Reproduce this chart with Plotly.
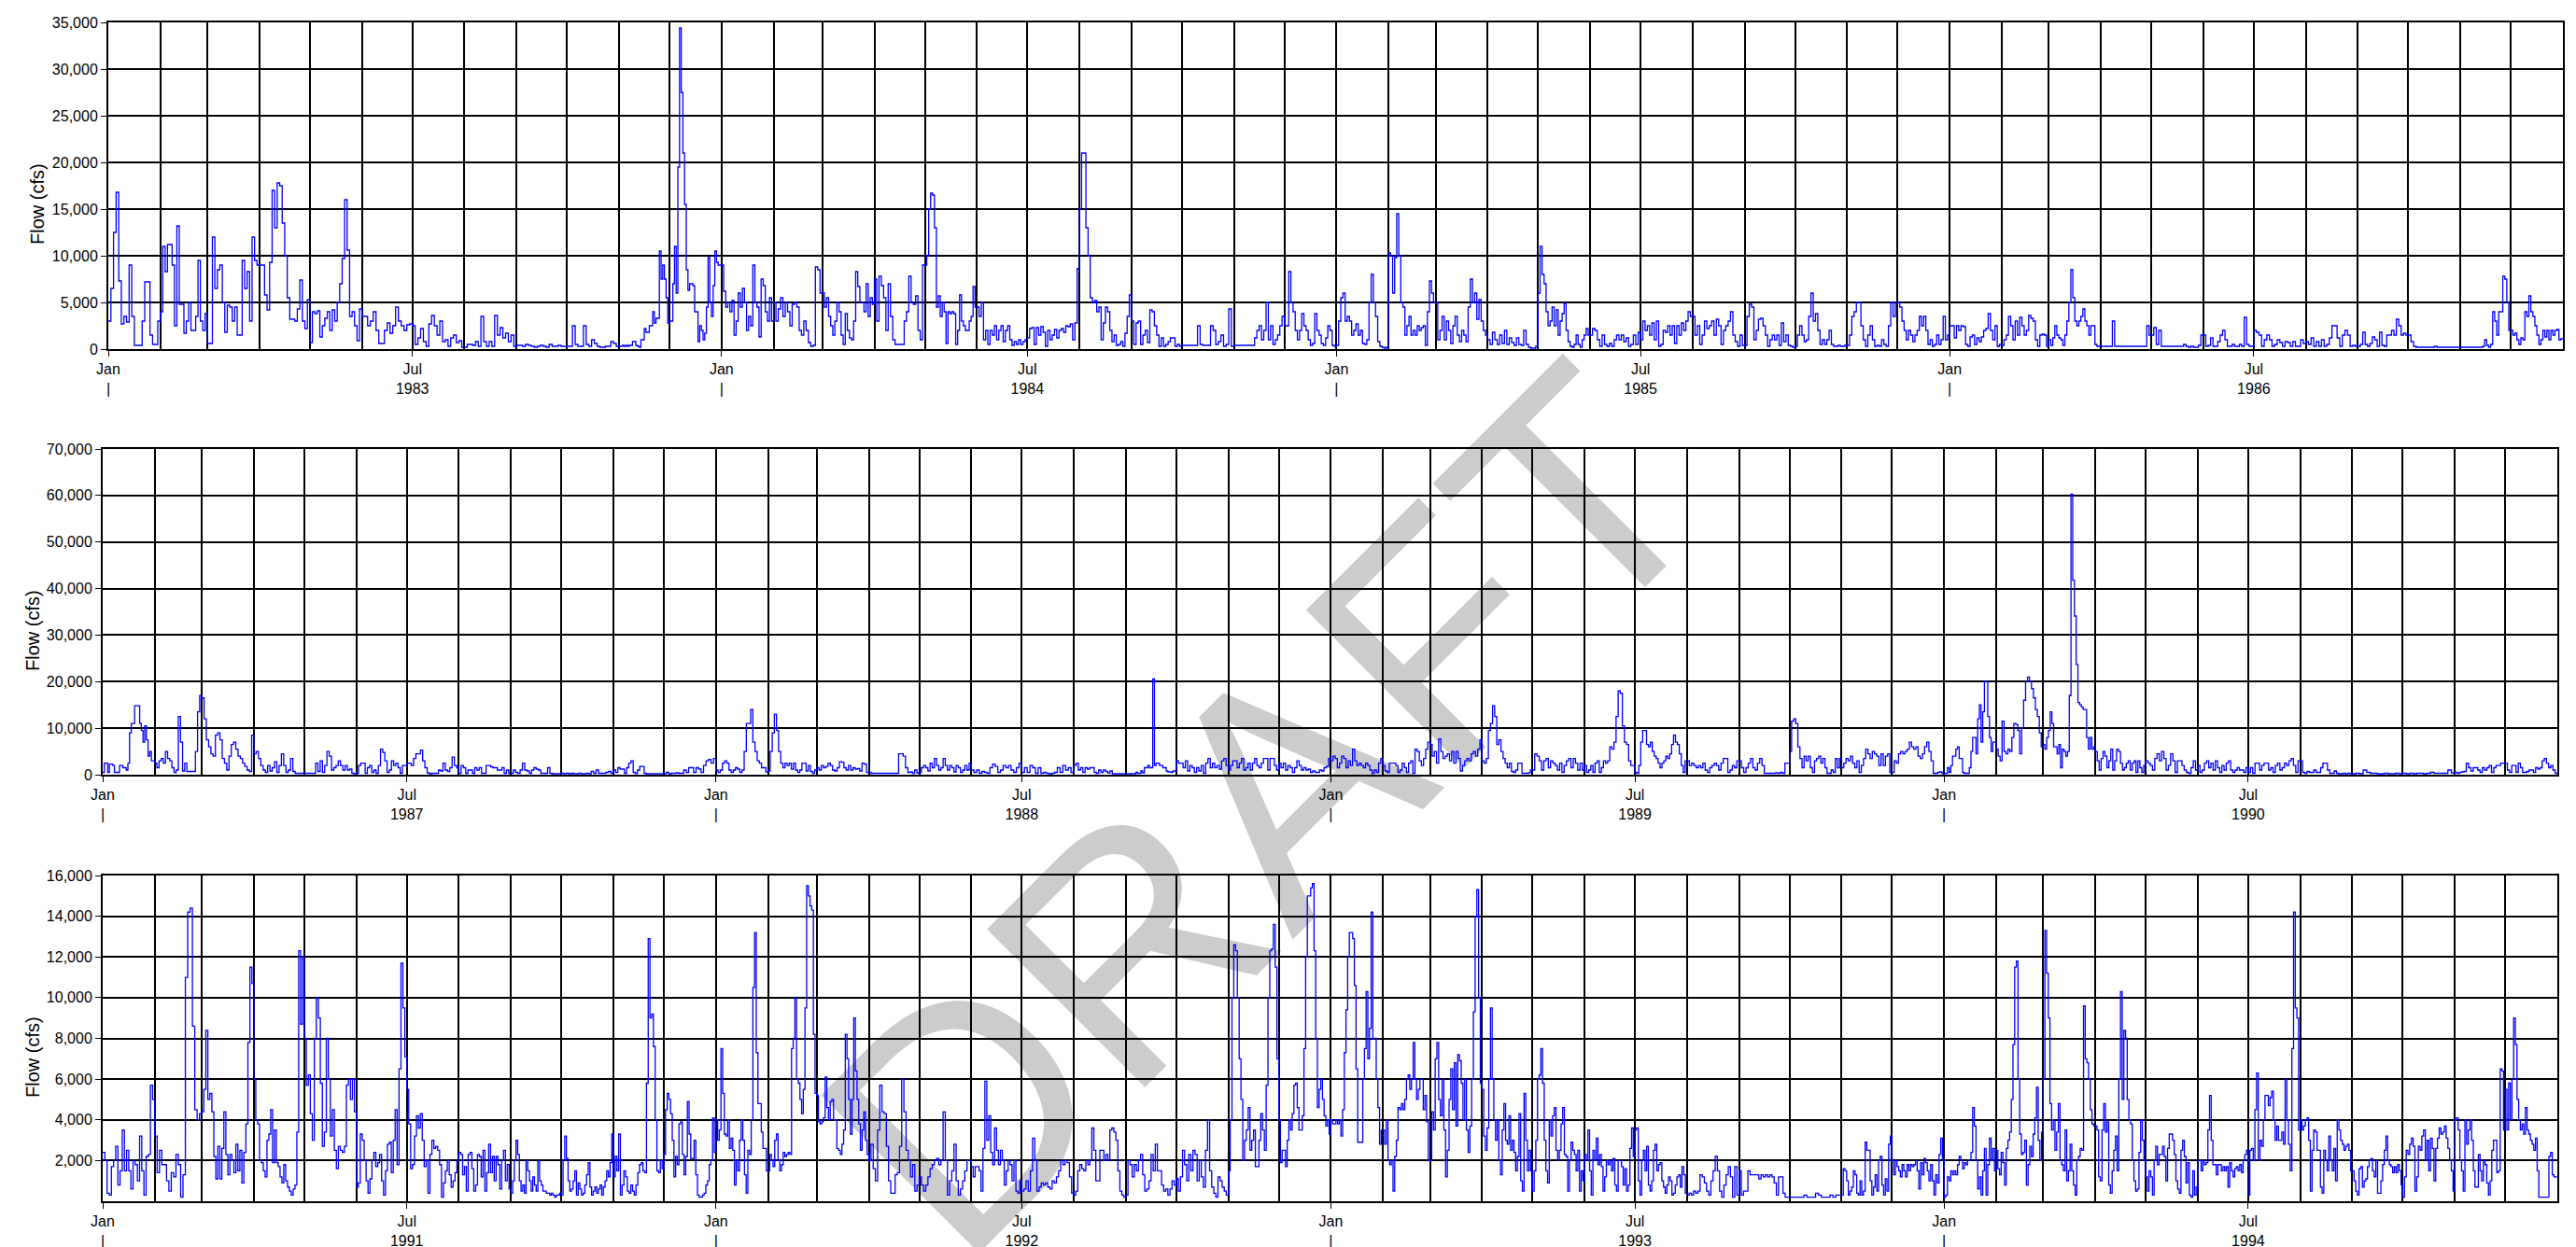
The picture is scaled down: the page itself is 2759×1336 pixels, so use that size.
import calendar
import pandas as pd
import plotly.graph_objects as go

W, H = 2759, 1336

# ---------------- data: daily-ish flow (cfs), one list per month ----------------
flow_1983 = [
    [3000, 6500, 12500, 16800, 7300, 2700, 3500, 2900, 9000, 3500, 400, 400, 400, 3000, 7200, 7200, 1500, 500, 500, 3000],
    [4000, 11000, 8300, 11200, 11200, 9000, 2500, 13200, 4800, 4800, 1700, 3000, 5000, 2000, 2000, 3500, 9500, 3000, 2000, 3800],
    [600, 600, 12000, 6500, 8500, 9000, 5000, 1800, 4700, 4500, 3000, 4500, 1500, 1500, 9500, 6500, 8300, 3000, 12000, 9500, 9000],
    [9000, 9000, 5800, 4200, 9300, 17000, 13000, 17800, 17500, 13500, 10000, 5500, 3200, 3200, 3000, 4300, 7400, 3000, 2200, 5300],
    [700, 4000, 3800, 4100, 1300, 2500, 3300, 4000, 2000, 4200, 3000, 5000, 7000, 9700, 16000, 10600, 3500, 4000, 2500, 900, 4300],
    [3500, 3500, 2500, 3000, 4000, 2000, 600, 600, 2000, 2800, 1700, 2500, 4500, 3000, 2500, 2000, 2600, 2700],
    [2500, 500, 1200, 2200, 800, 300, 2700, 3600, 2500, 1500, 3000, 800, 1000, 300, 1200, 1500, 700, 900, 200],
    [200, 500, 500, 400, 800, 300, 3500, 800, 300, 800, 300, 3600, 1500, 2300, 1200, 1700, 800, 1500, 300],
    [400, 400, 300, 500, 400, 300, 200, 300, 400, 300, 200, 500, 300, 300, 400, 300, 300],
    [300, 300, 2500, 500, 300, 300, 2500, 500, 300, 1000, 600, 300, 200, 200, 300, 300, 800, 600, 300],
    [300, 300, 400, 300, 400, 300, 400, 400, 800, 800, 400, 300, 200, 1000, 1000, 2200, 1800, 1800, 2500, 2500, 4000, 2800, 3300, 3300, 10500, 7500, 9000, 7500, 5500, 2800],
    [3000, 3000, 7000, 11000, 6000, 19500, 34400, 27500, 21000, 15500, 8500, 6300, 7000, 7000, 6800, 4000, 4000, 800, 2500, 2000, 1000, 1700, 4500, 9800, 5000, 3500, 6800, 10500, 9300, 9000, 9000],
]
flow_1984 = [
    [9000, 6200, 4500, 5000, 4000, 5200, 1500, 3000, 6000, 4500, 6500, 5000, 2000, 3500, 2500, 9000, 5000, 4500, 1300, 7500, 6800, 4000, 3000, 5500, 3000],
    [5000, 3000, 4300, 5500, 3500, 5000, 4000, 2500, 4800, 5000, 4500, 2000, 1500, 3000, 2000, 700, 300, 400, 8800, 8500, 6000],
    [6000, 4500, 5500, 3500, 2500, 1500, 3000, 5000, 4000, 1500, 500, 3800, 2000, 1200, 1000, 3000, 8300, 6700, 5000, 5000, 4000, 7000, 3500, 5500, 4800],
    [7500, 3000, 7800, 6800, 5500, 2000, 7000, 3500, 1000, 500, 500, 500, 500, 3000, 4000, 7800, 5000, 4800, 5700, 2000, 1000, 9000],
    [9000, 10000, 15000, 16700, 16500, 13000, 4500, 5700, 3500, 5000, 4000, 600, 4000, 3800, 4000, 3800, 500, 2000, 5800, 3000, 2500, 2000, 2000, 3000, 3500, 6700, 4500],
    [4500, 3500, 5000, 1000, 2000, 500, 2000, 1500, 2500, 1000, 2000, 2500, 800, 2000, 2500, 1000, 400, 800, 500, 1000, 500, 800, 1000],
    [1200, 2200, 2300, 500, 2300, 1500, 2400, 1800, 300, 2000, 1000, 1500, 2100, 1200, 2000, 2200, 1800, 2500, 2400, 2700, 1000, 2800, 8600],
    [15000, 21000, 21000, 13000, 10000, 5500, 5000, 5200, 4000, 4500, 1000, 2800, 4500, 4000, 2000, 800, 1500, 400, 500, 800, 300, 1700, 3500, 5800],
    [3000, 500, 2800, 3000, 500, 1500, 2000, 700, 4200, 4000, 2500, 1500, 300, 1200, 300, 500, 800, 1200, 1200, 300, 500, 300],
    [400, 400, 400, 400, 400, 400, 2500, 500, 400, 400, 400, 2500, 2000, 500, 800, 1500, 300, 500, 4300, 300],
    [400, 400, 400, 400, 400, 400, 400, 400, 400, 1200, 2000, 2500, 1000, 2000, 5000, 1000, 2500, 500, 1000, 1500, 2500, 3500],
    [2500, 2500, 8300, 5000, 4000, 2000, 1000, 2000, 3800, 2500, 2000, 1000, 400, 600, 3800, 2000, 1500, 600, 400, 1200, 2500, 2000, 400, 300],
]
flow_1985 = [
    [400, 3000, 5500, 6000, 3000, 3500, 3000, 1500, 2000, 2700, 1500, 2000, 600, 500, 1000, 5000, 8000, 5000, 3500, 800, 300, 200, 100, 200],
    [10300, 10000, 6000, 9800, 14500, 10000, 5000, 4500, 1500, 2500, 3500, 1500, 2000, 1500, 2500, 2000, 2300, 2500, 400, 4000, 7300, 6000, 5000],
    [5000, 1000, 2000, 3500, 1000, 3000, 2000, 600, 2500, 3500, 1500, 800, 2000, 1500, 800, 4500, 7500, 5000, 6000, 3200, 5300, 3000, 2000, 1500],
    [1000, 500, 1800, 1000, 500, 1500, 600, 2000, 500, 1200, 700, 400, 1200, 500, 400, 2000, 500, 200, 100, 100, 300],
    [6000, 11000, 8000, 7000, 4000, 2500, 3000, 4500, 2500, 4200, 1500, 3000, 3800, 4900, 2000, 800, 300, 200, 500, 1500, 500, 200, 1000, 1500, 2200, 1500],
    [1500, 2200, 2000, 1000, 300, 1500, 500, 300, 600, 300, 1000, 1500, 1000, 1500, 800, 1200, 300, 500, 1500, 500, 1800],
    [1000, 3000, 2000, 2500, 1500, 2800, 1000, 3000, 300, 500, 2000, 1800, 2500, 1500, 2500, 600, 2500, 1500, 2800, 2000, 3000, 4000, 3500],
    [3500, 1500, 2500, 500, 1500, 3000, 2200, 2500, 3000, 1500, 3200, 2500, 500, 2000, 2500, 3000, 4000, 1500, 800, 300, 1500, 400],
    [400, 3500, 4800, 4500, 1000, 2000, 3200, 3300, 2500, 1500, 300, 1000, 1500, 1000, 1500, 400, 2800, 800, 1500, 400, 300, 200],
    [300, 1500, 2500, 1500, 800, 1000, 3500, 6000, 3000, 3800, 2000, 500, 1000, 500, 1000, 2000, 500, 300, 300, 400, 300, 300, 400],
    [400, 1500, 3500, 4000, 5000, 5000, 2500, 1000, 300, 1500, 2500, 1000, 300, 400, 300, 1000, 500, 300, 2500, 5000, 3500, 5000],
    [5000, 4500, 3000, 2000, 1000, 2000, 1500, 800, 1500, 2000, 3500, 2500, 3500, 2000, 500, 1000, 300, 500, 1500, 500, 1000, 3500, 1000, 1500],
]
flow_1986 = [
    [2500, 2500, 1200, 2500, 2000, 2500, 2400, 500, 300, 1300, 1500, 500, 1200, 800, 1300, 2000, 2200, 3800, 2000, 1000, 2500, 300, 500],
    [400, 1000, 1500, 3500, 2500, 1000, 3000, 1500, 3400, 2500, 1500, 2000, 3600, 3300, 3000, 1000, 300, 1500, 1600, 1500, 300],
    [1000, 400, 1200, 2500, 1500, 1200, 1000, 400, 1500, 3000, 5000, 8500, 5500, 3000, 2500, 3000, 3500, 4300, 3000, 2500, 1500, 2500, 2500, 500, 300, 300],
    [300, 300, 300, 300, 300, 3000, 300, 300, 300, 300, 300, 300, 300, 300, 300, 300, 300, 300, 300, 300, 2500, 1500],
    [1500, 2300, 500, 2000, 300, 300, 300, 300, 300, 300, 300, 300, 300, 500, 300, 200, 300, 200, 200, 400, 1500],
    [1500, 300, 400, 1200, 300, 300, 800, 1500, 2000, 1000, 300, 300, 500, 300, 300, 500, 300, 3400, 500, 300, 300],
    [2000, 1800, 1500, 300, 1000, 1500, 1000, 300, 500, 1000, 700, 300, 800, 700, 300, 800, 300, 300, 1000, 600],
    [800, 500, 1200, 300, 800, 300, 1000, 300, 500, 1200, 2500, 2500, 1200, 300, 1500, 2000, 1500, 300, 400, 300],
    [300, 500, 1800, 500, 300, 600, 1300, 1000, 300, 1800, 400, 300, 1500, 1500, 2000, 1500, 3200, 2500, 1500, 1700, 1500],
    [1500, 800, 300, 200, 200, 200, 200, 200, 200, 200, 300, 200, 200, 200, 200, 200, 200, 200, 200, 200],
    [200, 200, 200, 200, 200, 200, 200, 200, 200, 200, 200, 300, 1000, 400, 200, 500, 4000, 3000, 1500, 4000, 4000, 7800, 7500, 5000, 2000],
    [2000, 1500, 1700, 1000, 500, 1200, 1000, 4000, 3500, 5700, 4000, 3500, 2500, 1500, 500, 1000, 2000, 1300, 2000, 1000, 2000, 1500, 2000, 2100, 1000, 1100],
]
flow_1987 = [
    [500, 2500, 2500, 500, 2300, 2300, 2000, 500, 500, 500, 2000, 2000, 1500, 1500, 1000, 2500, 9000, 11000, 11000, 14800, 14800, 14800, 11000, 9500, 7000, 10500, 7500, 4000, 5000, 3000, 3000],
    [2500, 1500, 3000, 3500, 2500, 5000, 3500, 3000, 1500, 500, 1000, 12500, 7000, 800, 2500, 700, 700, 700, 700, 5000, 13500, 17000],
    [16500, 12000, 7500, 6000, 4500, 4000, 8500, 9000, 7500, 3500, 2500, 1000, 4000, 6500, 7000, 5500, 4000, 3500, 2500, 1800, 1000, 700, 8500],
    [4500, 5000, 3500, 2000, 1000, 500, 2000, 800, 1500, 2800, 500, 2000, 4500, 2000, 500, 1000, 3500, 700, 300, 300, 300, 300],
    [300, 300, 300, 300, 300, 2500, 700, 3000, 500, 2000, 5000, 4000, 1000, 1500, 2000, 3000, 2000, 1000, 2000, 1000, 1200, 300, 200],
    [300, 2000, 2500, 2500, 300, 1500, 2000, 500, 1000, 300, 2000, 5500, 4800, 3000, 500, 1000, 3000, 2000, 2500, 1500, 300, 2000, 2000],
    [2500, 2500, 2000, 3500, 4500, 4500, 5300, 3000, 1500, 400, 200, 300, 300, 300, 1000, 800, 2500, 1000, 700, 1500, 3800, 2000, 1500],
    [300, 2000, 1500, 300, 1000, 1000, 300, 1500, 1000, 1500, 300, 300, 2000, 2000, 1700, 1500, 1500, 1000, 1000, 1500, 300, 1000, 300],
    [300, 1000, 500, 300, 1000, 2500, 1000, 800, 300, 1000, 1500, 1200, 1000, 300, 300, 300, 1500, 300, 200, 200, 200, 200],
    [300, 200, 300, 200, 300, 200, 200, 300, 200, 200, 300, 200, 700, 300, 1000, 300, 300, 300, 500, 700, 300],
    [1000, 500, 1500, 1200, 1200, 300, 1500, 2500, 3000, 500, 300, 1000, 1800, 1800, 300, 200, 200, 200, 200, 200, 200, 200, 200],
    [200, 500, 200, 300, 300, 400, 300, 300, 1000, 500, 1500, 1500, 500, 1500, 1200, 500, 2000, 3000, 3300, 2500, 3500],
]
flow_1988 = [
    [1000, 500, 1000, 2500, 3000, 2500, 1000, 500, 1000, 1500, 1200, 500, 1000, 5000, 11000, 11000, 14000, 7000, 5000, 3000, 2500, 1500, 1500, 600],
    [800, 5000, 9000, 13000, 9500, 5000, 2500, 1500, 2500, 2000, 2500, 1200, 2500, 1000, 500, 1000, 2500, 2500, 800, 2000, 700, 300, 1000],
    [1500, 1000, 2000, 1500, 1800, 2500, 2000, 1000, 800, 1500, 2800, 2700, 1500, 1000, 2000, 1000, 1500, 1200, 1300, 800, 2500, 2300, 500],
    [500, 300, 300, 300, 300, 300, 300, 300, 300, 300, 300, 300, 300, 4500, 4500, 4000, 1500, 500, 600, 300, 1000, 400],
    [500, 1500, 2000, 1500, 800, 2500, 1500, 3500, 2000, 1000, 1500, 3500, 2000, 1000, 2000, 1500, 600, 2000, 1500, 500, 1000, 2000, 1000, 2500],
    [1000, 500, 1000, 300, 700, 500, 300, 1500, 2300, 1800, 500, 1000, 2000, 1500, 2000, 1000, 500, 1500, 2500],
    [500, 1500, 500, 2000, 1500, 300, 1500, 300, 500, 300, 200, 300, 500, 1500, 500, 2000, 1000, 1500, 500],
    [2000, 2500, 1000, 1500, 500, 1500, 1200, 1500, 1500, 500, 300, 1000, 500, 1000, 700, 400, 800, 200, 200, 200, 200, 200, 200],
    [200, 200, 200, 200, 200, 200, 500, 300, 300, 800, 400, 1500, 1500, 2000, 1500, 1500, 20600, 2000, 2500, 2500, 2000, 2000, 1500, 1500, 800, 600, 600, 500, 800, 800],
    [3000, 2500, 2500, 1500, 3000, 800, 2000, 1500, 500, 1500, 800, 2000, 300, 2500, 3500, 1500, 2500, 1500, 2000, 1200, 3000, 3500, 2000],
    [1000, 2000, 3000, 3000, 1500, 2500, 3500, 1000, 1500, 2500, 1000, 2500, 3500, 2000, 1500, 2500, 3500, 3500, 1000, 3500, 3500, 2000, 1000],
    [2500, 1500, 2500, 1000, 2000, 1500, 500, 1500, 3000, 2000, 1000, 1500, 1000, 1200, 500, 800, 500, 500, 1000, 800, 1500, 1800, 3500],
]
flow_1989 = [
    [3000, 4000, 3500, 1500, 2500, 4000, 3500, 1500, 3000, 2000, 5500, 3000, 2000, 2500, 2000, 1500, 2500, 2000, 1000, 300, 1000, 500, 2500, 3500],
    [2000, 800, 500, 2500, 2500, 2500, 2000, 500, 1000, 2500, 1500, 500, 2500, 3000, 300, 5500, 5000, 3000, 2000, 3500, 5500, 7000],
    [6500, 4000, 5000, 2500, 7700, 5000, 3500, 4000, 4500, 3000, 5000, 2500, 5000, 3500, 800, 2000, 3000, 3500, 3000, 4500, 5000, 4000, 5500, 7500],
    [3000, 2500, 3500, 9500, 11000, 14800, 12500, 6500, 7500, 5000, 3500, 2500, 1500, 2500, 700, 500, 1000, 2500, 2500, 300, 300, 300, 400, 1000],
    [1000, 4500, 4000, 3000, 1000, 3000, 3500, 1500, 3000, 2500, 2000, 1000, 2500, 500, 2000, 3000, 3500, 1500, 3500, 2500, 1000, 2500, 1000],
    [2000, 500, 1000, 2000, 500, 2500, 3000, 500, 1500, 3000, 2500, 3000, 6000, 5500, 7000, 12500, 18000, 17500, 10500, 7000, 6500, 3000, 2000, 2000],
    [500, 300, 2000, 7000, 9500, 9500, 6500, 6000, 7000, 5000, 4000, 3500, 2500, 1500, 2500, 3000, 4000, 3500, 4500, 6500, 8500, 7000, 6500, 4500, 2000, 500, 3000],
    [3000, 2000, 2500, 2000, 1500, 2000, 1500, 2500, 1000, 500, 1500, 2000, 2500, 2000, 1000, 2500, 3500, 3500, 500, 1000, 2000, 1500, 3000],
    [3000, 1500, 500, 1500, 2500, 3500, 1500, 1000, 2500, 3500, 2000, 300, 300, 300, 300, 300, 400, 300, 500, 300, 2500, 2500],
    [5000, 11500, 12000, 11000, 6000, 3500, 1500, 4000, 3000, 4000, 1500, 500, 3000, 3500, 4000, 2500, 3500, 1500, 300, 300, 1000, 500, 3500, 1500, 3500],
    [1500, 2500, 3500, 3000, 4000, 2500, 1500, 3000, 500, 2000, 3500, 5500, 4500, 3500, 5000, 4500, 4000, 2000, 4500, 2000, 4000, 4500, 500],
    [500, 3000, 2500, 4500, 5000, 4500, 5000, 5500, 7000, 6000, 5500, 6000, 4000, 3500, 4500, 6000, 7000, 5000, 3000, 300, 300, 500, 600, 300],
]
flow_1990 = [
    [300, 300, 1500, 500, 2000, 4000, 4000, 5500, 6000, 3500, 3500, 500, 300, 300, 300, 1500, 5000, 8000, 8000, 4500, 12000, 15000, 7000, 13500, 20000, 20000, 12500, 8000, 5000, 7000, 7000],
    [5500, 4000, 3000, 11500, 5000, 4500, 5500, 5000, 8000, 11000, 10800, 9500, 4500, 10000, 16000, 20000, 21000, 20000, 18500, 16500, 14000, 12500, 9000, 6000],
    [6500, 5500, 8000, 9500, 13500, 11000, 6000, 6000, 4500, 6500, 1500, 5500, 5000, 4000, 5000, 17000, 60300, 41800, 34100, 23700, 15500, 15000, 14500, 14000, 14000, 8000, 5500, 8000, 5500, 6000],
    [5000, 3000, 1000, 3500, 5000, 4000, 1500, 3000, 5500, 1000, 3000, 5500, 5000, 2500, 1000, 1500, 2500, 3000, 1000, 2500, 3000, 500, 3000, 1500, 500, 2000],
    [3000, 2500, 2000, 1000, 3500, 4500, 3000, 5000, 3500, 1000, 2000, 4500, 3000, 500, 3000, 3000, 2000, 1000, 500, 300, 1500, 3000, 1000],
    [2000, 500, 1000, 2500, 3000, 1500, 2500, 1000, 3000, 1500, 500, 2000, 1000, 2500, 3000, 1000, 500, 1000, 1500, 1000, 1000, 500, 1500],
    [500, 1500, 300, 2500, 2500, 1000, 2000, 2500, 2500, 1000, 1500, 500, 2000, 2500, 1000, 1500, 2500, 2000, 3000, 3500, 2000, 500, 3000],
    [3000, 500, 300, 700, 500, 500, 1000, 500, 500, 1500, 2500, 2500, 1000, 300, 300, 800, 300, 200, 200, 300, 200, 300, 200],
    [200, 300, 200, 1000, 500, 300, 300, 200, 200, 300, 200, 200, 300, 200],
    [300, 200, 300, 200, 300, 300, 200, 300, 500, 300, 300, 300, 300, 1000, 400],
    [500, 300, 500, 600, 700, 2500, 1500, 800, 1500, 1500, 1000, 500, 1500, 1000, 1500, 2000, 500, 1500, 2000, 2000, 2500, 2500],
    [2500, 1000, 500, 2000, 2000, 500, 2500, 1500, 500, 500, 700, 1000, 1000, 500, 1500, 1200, 1500, 3000, 3500, 2500, 1500, 2000, 1000, 300],
]
flow_1991 = [
    [2400, 2000, 400, 300, 1700, 2000, 2700, 800, 1500, 3500, 1500, 2500, 1500, 600, 2000, 1800, 1000, 3200, 1500, 300, 2200, 2300, 5700, 5000],
    [3200, 1400, 2500, 1800, 1800, 1000, 500, 1400, 1200, 2300, 1800, 200, 1300, 11000, 14200, 14400, 8600, 4500, 4000, 4300],
    [4400, 5500, 8400, 5000, 5300, 4400, 2200, 1100, 2700, 1100, 2600, 4400, 2300, 1300, 2300, 2000, 1400, 2800, 1500, 2500, 900, 2400, 3800, 7800, 11500, 10700],
    [6000, 4000, 3800, 2000, 1900, 1500, 1200, 3000, 3300, 4500, 1900, 3500, 1900, 1700, 1200, 900, 1800, 1000, 700, 500, 300, 600, 800, 3400, 12300, 8700, 12000],
    [8000, 5700, 6200, 4300, 3000, 8000, 10000, 9000, 5800, 2700, 3400, 8000, 6000, 3200, 4500, 2500, 1600, 2700, 2500, 2400, 2700, 5700, 6000, 5000, 6000, 4400],
    [700, 900, 3300, 3000, 2000, 1000, 400, 1100, 2000, 2400, 1700, 1900, 2300, 1000, 300, 1500, 2800, 2900, 1400, 3000, 4500, 1800, 6500, 11700, 9500, 7100],
    [5500, 3800, 1600, 1800, 3200, 4200, 3600, 4300, 3000, 1700, 2000, 400, 2300, 3000, 2600, 2700, 2500, 1800, 200, 900, 1500, 2000, 1300, 700, 1000, 1400, 2000],
    [2400, 2300, 1300, 1700, 500, 2300, 2400, 1600, 500, 800, 2300, 2200, 1200, 2500, 500, 1400, 2800, 1400, 2200, 1000, 2200, 1800, 600, 2000, 2500, 1000, 1800, 600],
    [400, 1000, 2000, 3000, 2300, 1000, 500, 800, 400, 2000, 1500, 1000, 500, 1200, 800, 500, 2000, 1000, 800, 500, 500, 400, 400, 300, 400, 300, 200, 300, 300, 400],
    [300, 2000, 3200, 2100, 1000, 500, 600, 1000, 1500, 300, 900, 600, 300, 400, 800, 1300, 1900, 700, 300, 500, 700, 400, 600, 800, 300, 700, 1000, 1500, 1200, 1900, 3300],
    [1200, 2200, 1500, 3300, 300, 800, 1500, 1200, 500, 400, 800, 500, 300, 800, 1400, 1800, 1900, 1500, 1400, 5800, 12900, 9000, 9200, 7600, 4000, 1500, 1400, 2000, 1600],
    [2300, 4500, 5300, 5000, 4300, 3000, 1200, 2200, 1800, 3800, 3900, 2300, 1300, 2200, 4900, 3300, 2100, 2100, 3000, 1300, 300, 200, 200, 300, 400, 800, 1000, 1800, 2000, 4100, 2400],
]
flow_1992 = [
    [4000, 3000, 3500, 7500, 5300, 3300, 3200, 4000, 2600, 3100, 2500, 800, 2000, 1500, 3000, 4000, 3000, 1300, 400, 2500, 2300, 4000, 10500, 13200, 7300, 4800, 4800, 3400, 2600, 2600, 1500],
    [1500, 2300, 2000, 1700, 3000, 3300, 2000, 1500, 1800, 2400, 2200, 2300, 2400, 2300, 7500, 8000, 10000, 6000, 5800, 5000, 4300, 5500, 9500, 15500, 15000, 14500, 14300, 8200, 5300],
    [5200, 3900, 3800, 3900, 4100, 6100, 4600, 4000, 4900, 5000, 4000, 4000, 2600, 2500, 2300, 2800, 3500, 8200, 7000, 5000, 3300, 5000, 9000, 6400, 5000, 3800, 2500, 3500, 4400, 3000, 2300],
    [2000, 2800, 1600, 1000, 3500, 5700, 4400, 4300, 2700, 1000, 400, 400, 1300, 1400, 2700, 6000, 4400, 2500, 2000, 1200, 1800, 500, 800],
    [1200, 800, 500, 800, 1200, 1600, 1800, 2000, 2100, 1800, 2000, 4400, 2000, 300, 1000, 1500, 2800, 1000, 300, 600, 1000, 1500, 2000, 2000],
    [1700, 1200, 1700, 1700, 1500, 500, 2600, 5900, 3000, 4200, 2400, 1800, 3600, 2500, 1800, 2500, 2000, 800, 1500, 2000, 1800, 1000, 2000, 500, 400, 1000],
    [500, 600, 1000, 500, 1500, 3100, 2000, 500, 700, 900, 800, 900, 700, 600, 1000, 900, 1200, 1500, 2000, 1800, 2000, 1900, 1200, 400],
    [300, 500, 1500, 1800, 1600, 1500, 2000, 1800, 2000, 3600, 2500, 1000, 1000, 2500, 2500, 2000, 2300, 2000, 3500, 3600, 3400, 3000, 1500, 500, 300, 200],
    [300, 2000, 1800, 1200, 1800, 1500, 2000, 2300, 1300, 500, 600, 1000, 2300, 1500, 2800, 1500, 1500, 800, 500, 600, 300, 600, 1000, 800],
    [1100, 500, 1200, 2500, 1800, 1000, 2300, 1500, 2500, 2300, 1000, 2000, 1200, 700, 2500, 4000, 1500, 700, 400, 200, 1200, 1000, 700, 500, 300],
    [1500, 4000, 10000, 12600, 12300, 10000, 7000, 5000, 2000, 3000, 3500, 4600, 2500, 3000, 3500, 1700, 1700, 3000, 4300, 3500, 2500, 5700, 10000, 12300, 12400, 13600, 11500, 7000],
    [4000, 1900, 2500, 2500, 1700, 3000, 4000, 3500, 4300, 5700, 5800, 4600, 3500, 3500, 4200, 7500, 12000, 15000, 15000, 15400, 15600, 12300, 8000, 4600, 5500, 6000, 5000, 4200, 3700, 4000, 3300],
]
flow_1993 = [
    [4000, 3800, 3800, 4000, 3800, 4000, 3200, 4500, 7300, 9400, 12000, 13200, 13200, 12900, 10600, 6500, 2900, 2900, 2900, 6000, 7500, 10300, 7000, 8500, 14200, 8000, 8000, 6000, 4600, 2800, 3500],
    [3500, 2800, 4000, 2000, 1800, 2000, 500, 2200, 3000, 4600, 4500, 4800, 4500, 5000, 6000, 6200, 5500, 6000, 7800, 6000, 5000, 5500, 6000, 6000, 4500, 5200, 3900, 2000],
    [2000, 4400, 3500, 7000, 7800, 5000, 4200, 6000, 3500, 1200, 2500, 5000, 6500, 4500, 6800, 3700, 7200, 6900, 5800, 4000, 6000, 3500, 2400, 3700, 6000, 9300, 14000, 15300, 10000, 5800],
    [5500, 3200, 2500, 3600, 6000, 9500, 6000, 4000, 3000, 4000, 2000, 1300, 3500, 4800, 3000, 2800, 4200, 2500, 3000, 2400, 1500, 2200, 4300, 1000, 500, 5300, 3000, 1500, 2500, 1500],
    [500, 1500, 3000, 6000, 6200, 7500, 5800, 3000, 1500, 900, 4000, 3200, 4200, 4600, 2500, 2000, 2500, 3800, 4600, 2300, 2200, 500, 2000, 2900, 2500, 2300, 1500, 2500, 500, 1500, 1000],
    [2300, 2000, 3500, 1500, 300, 2500, 2000, 3100, 1800, 2300, 1700, 500, 1200, 2000, 1800, 2000, 1500, 2100, 800, 500, 2000, 2000, 1700, 800, 1600, 500, 800, 2600, 3600, 2200],
    [3500, 3600, 1000, 300, 2000, 2500, 1500, 2700, 800, 500, 1000, 2500, 2800, 1500, 1800, 1900, 1000, 700, 400, 800, 1200, 1000, 300, 400, 800, 1200, 1300, 700, 1700, 1300, 400],
    [300, 400, 300, 500, 400, 500, 1300, 1200, 900, 500, 300, 1000, 1500, 2200, 1500, 500, 200, 800, 1300, 1700, 1200, 200, 1700, 300],
    [1500, 300, 500, 500, 1500, 1300, 1300, 1300, 1300, 1100, 1300, 1200, 1300, 1200, 1300, 1200, 900, 300, 1200, 1200, 400, 200, 200],
    [200, 200, 200, 200, 200, 300, 200, 200, 200, 400, 300, 200, 200, 200, 300, 200, 300, 300],
    [300, 1600, 1500, 1000, 300, 500, 700, 1500, 1300, 400, 300, 1000, 300, 500, 2900, 2500, 2500, 1000, 300, 700, 1300, 500, 2000, 2200, 800, 300, 1100, 500, 2800, 3200],
    [2000, 1300, 2000, 1700, 1500, 1200, 1800, 1500, 1200, 1800, 1500, 1800, 1700, 1800, 2000, 1500, 600, 1900, 1300, 2100, 1900, 1500, 1000, 1800, 1000, 300, 1300, 900, 2300, 3100, 2000],
]
flow_1994 = [
    [200, 300, 1200, 1000, 1500, 1300, 1500, 1300, 1800, 2200, 2000, 1600, 1900, 1800, 2000, 2000, 2400, 4600, 3700, 2000, 600, 1200, 300, 1500, 2600, 300, 1800, 3100, 2000, 2600, 1500],
    [2500, 1600, 1300, 2400, 1900, 800, 2600, 3000, 3400, 5000, 7700, 11500, 11800, 6000, 3300, 2300, 2400, 3000, 800, 1800, 2700, 2200, 3300, 4100, 5600, 3000, 2000, 3400],
    [6000, 13300, 11200, 9000, 4800, 3500, 4000, 2500, 3400, 4800, 2000, 1800, 1500, 3500, 1000, 1500, 2800, 1500, 800, 300, 2000, 2200, 2600, 2500, 9600, 7000, 6800, 6000, 4500, 3800, 3700],
    [3700, 3500, 1200, 1000, 3500, 4800, 3400, 3900, 800, 400, 1500, 2500, 3200, 1500, 6000, 10300, 5000, 8400, 8000, 5000, 4000, 3800, 2000, 1000, 500, 600, 2400, 4000, 3000, 2000],
    [1200, 500, 1500, 1200, 300, 2000, 2700, 1800, 2300, 2300, 2700, 2200, 1000, 2600, 3300, 3300, 3000, 2300, 1000, 600, 400, 2500, 3000, 2200, 900, 1900, 300, 200, 1500, 300, 700],
    [2000, 2000, 1500, 2000, 1800, 1900, 3500, 5200, 3000, 1800, 1800, 1300, 1800, 1800, 1500, 1700, 1500, 1700, 700, 1900, 1500, 1200, 1600, 1700, 1500, 1800, 1400, 2000, 2300, 2500],
    [300, 2500, 2600, 2000, 4500, 6300, 2000, 3000, 2700, 4000, 5200, 5200, 4700, 5100, 5400, 4000, 3000, 3700, 3000, 3000, 3400, 2800, 6000, 4000, 2800, 1500, 7500, 14200, 9500, 9000, 3500],
    [4000, 3500, 3700, 4000, 4100, 3000, 500, 2500, 3500, 3400, 2500, 2500, 700, 400, 2500, 2000, 1500, 3200, 2000, 1500, 2600, 1000, 4000, 3500, 3000, 2800, 2500, 2700, 2800, 2500, 1500],
    [1500, 1000, 500, 300, 1600, 1700, 700, 1000, 1100, 1700, 2000, 2100, 1500, 1200, 2000, 400, 400, 1000, 1800, 2500, 3200, 2000, 1800, 1700, 1400, 1700, 1400, 1800, 1500, 800],
    [200, 1200, 2500, 2300, 2800, 3100, 2700, 500, 1200, 2700, 2500, 3200, 3500, 2000, 3000, 1500, 3100, 2600, 1000, 2600, 3100, 3600, 3300, 3400, 3700, 3100, 2600, 2000, 1500, 500],
    [4000, 4100, 3500, 2000, 1500, 500, 4000, 2800, 3500, 4000, 3000, 1500, 700, 700, 2300, 1500, 1000, 2000, 1800, 900, 300, 1000, 2500, 3000, 3000, 1400, 1500, 6500, 6400, 3500],
    [5500, 3500, 5800, 4000, 6000, 9000, 7700, 5000, 4000, 3500, 3800, 3300, 4600, 3500, 3300, 3000, 2800, 2500, 3100, 1500, 200, 200, 200, 200, 200, 200, 2200, 2400, 1300, 1200, 1200],
]

panel_years = [1983, 1987, 1991]
panel_flows = [
    [flow_1983, flow_1984, flow_1985, flow_1986],
    [flow_1987, flow_1988, flow_1989, flow_1990],
    [flow_1991, flow_1992, flow_1993, flow_1994],
]
y_max = [35000, 70000, 16000]
y_tickvals = [
    list(range(0, 35001, 5000)),
    list(range(0, 70001, 10000)),
    list(range(2000, 16001, 2000)),
]
y_title = "Flow (cfs)"

# ---------------- layout geometry (pixels) ----------------
x_px = [(108, 2737), (102, 2731), (102, 2731)]
y_px = [(16, 366), (473, 822), (930, 1279)]
title_px = [(32, 211), (27, 668), (27, 1125)]

FONT = "Liberation Sans, Arial, sans-serif"


def build_series(start_year, years):
    xs, ys = [], []
    for k, months in enumerate(years):
        yr = start_year + k
        for m, vals in enumerate(months, start=1):
            start = pd.Timestamp(year=yr, month=m, day=1)
            nd = calendar.monthrange(yr, m)[1]
            step = nd / len(vals)
            for i, v in enumerate(vals):
                xs.append(start + pd.Timedelta(hours=24 * i * step))
                ys.append(v)
    end = pd.Timestamp(year=start_year + len(years), month=1, day=1)
    xs.append(end)
    ys.append(ys[-1])
    return xs, ys


fig = go.Figure()
layout = dict(
    width=W, height=H,
    margin=dict(l=0, r=0, t=0, b=0),
    paper_bgcolor="white",
    plot_bgcolor="rgba(0,0,0,0)",
    showlegend=False,
    template="none",
    font=dict(family=FONT, size=16, color="black"),
)

for p in range(3):
    sfx = "" if p == 0 else str(p + 1)
    start_year = panel_years[p]
    xs, ys = build_series(start_year, panel_flows[p])
    fig.add_trace(go.Scatter(
        x=xs, y=ys, mode="lines", line=dict(color="#0000ff", width=1.3, shape="hv"),
        xaxis="x" + sfx, yaxis="y" + sfx, hoverinfo="skip",
    ))
    start = pd.Timestamp(year=start_year, month=1, day=1)
    end = pd.Timestamp(year=start_year + 4, month=1, day=1)
    tickvals, ticktext = [], []
    for yr in range(start_year, start_year + 4):
        tickvals.append(pd.Timestamp(year=yr, month=1, day=1))
        ticktext.append("Jan<br>|")
        tickvals.append(pd.Timestamp(year=yr, month=7, day=1))
        ticktext.append("Jul<br>%d" % yr)
    month_vals = list(pd.date_range(start, end, freq="MS"))
    x0, x1 = x_px[p]
    yt, yb = y_px[p]
    layout["xaxis" + sfx] = dict(
        type="date", domain=[x0 / W, x1 / W], range=[start, end],
        anchor="y" + sfx,
        tickmode="array", tickvals=tickvals, ticktext=ticktext,
        ticks="outside", ticklen=6, tickwidth=1, tickcolor="black",
        tickfont=dict(family=FONT, size=16, color="black"),
        showgrid=True, gridcolor="black", gridwidth=2,
        minor=dict(tickmode="array", tickvals=month_vals, showgrid=True,
                   gridcolor="black", gridwidth=2, ticks=""),
        showline=True, mirror=True, linecolor="black", linewidth=2,
        zeroline=False, automargin=False, fixedrange=True,
    )
    layout["yaxis" + sfx] = dict(
        domain=[1 - yb / H, 1 - yt / H], range=[0, y_max[p]],
        anchor="x" + sfx,
        tickmode="array", tickvals=y_tickvals[p], tickformat=",d",
        ticks="outside", ticklen=6, tickwidth=1, tickcolor="black",
        tickfont=dict(family=FONT, size=16, color="black"),
        showgrid=True, gridcolor="black", gridwidth=2,
        showline=True, mirror=True, linecolor="black", linewidth=2,
        zeroline=False, automargin=False, fixedrange=True,
    )
    tx, ty = title_px[p]
    fig.add_annotation(
        text=y_title, xref="paper", yref="paper", x=tx / W, y=1 - ty / H,
        xanchor="center", yanchor="middle", textangle=-90, showarrow=False,
        font=dict(family=FONT, size=20, color="black"),
    )

fig.update_layout(**layout)

# watermark, drawn beneath grid and data
cx, cy = 1322 / W, 1 - 836 / H
fig.add_shape(
    type="rect", xref="paper", yref="paper",
    x0=cx - 0.002, x1=cx + 0.002, y0=cy - 0.002, y1=cy + 0.002,
    line=dict(width=0), fillcolor="rgba(0,0,0,0)", layer="below",
    label=dict(text="DRAFT", textangle=-45, textposition="middle center",
               font=dict(family=FONT, size=348, color="#cccccc")),
)

fig.write_html("out.html")
